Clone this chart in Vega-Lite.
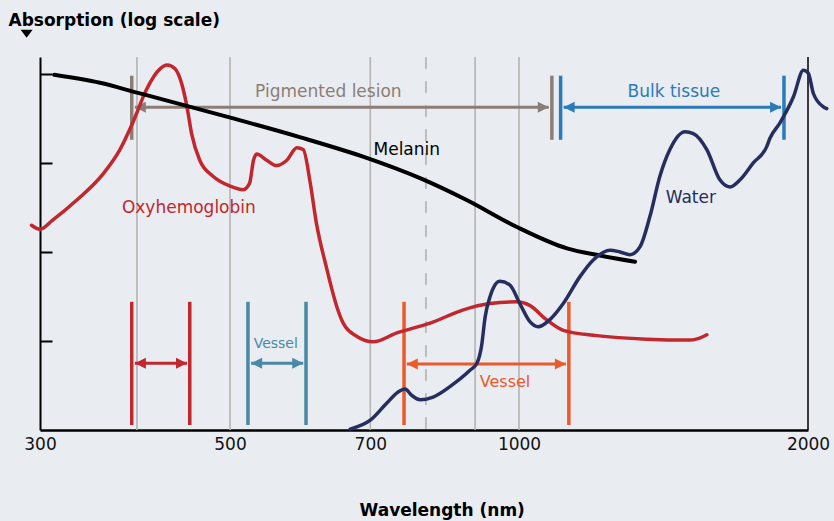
{
  "$schema": "https://vega.github.io/schema/vega-lite/v6.json",
  "width": 768,
  "height": 373,
  "autosize": {"type": "none"},
  "padding": {"left": 40, "top": 57, "right": 26, "bottom": 91},
  "background": "#e9ecf1",
  "config": {
    "view": {"stroke": null},
    "font": "DejaVu Sans",
    "axis": {"grid": false},
    "axisX": {
      "ticks": false,
      "tickSize": 0,
      "grid": false,
      "domainColor": "#000000",
      "domainWidth": 2.5,
      "labelFont": "DejaVu Sans",
      "labelFontSize": 17,
      "labelColor": "#111111",
      "labelPadding": 6,
      "labelFlush": false,
      "labelOverlap": false,
      "titleFont": "DejaVu Sans",
      "titleFontSize": 17,
      "titleFontWeight": "bold",
      "titleColor": "#000000",
      "titleX": 401.7,
      "titleY": 85,
      "titleBaseline": "alphabetic",
      "titleAlign": "center"
    },
    "axisY": {
      "labels": false,
      "grid": false,
      "domainColor": "#000000",
      "domainWidth": 2,
      "tickColor": "#000000",
      "tickWidth": 2,
      "tickSize": -12,
      "titleFont": "DejaVu Sans",
      "titleFontSize": 17,
      "titleFontWeight": "bold",
      "titleColor": "#000000",
      "titleAngle": 0,
      "titleAlign": "left",
      "titleBaseline": "alphabetic",
      "titleX": -32,
      "titleY": -32
    }
  },
  "datasets": {
    "grid": [
      {"wl": 400, "kind": "solid"},
      {"wl": 500, "kind": "solid"},
      {"wl": 700, "kind": "solid"},
      {"wl": 800, "kind": "dashed"},
      {"wl": 900, "kind": "solid"},
      {"wl": 1000, "kind": "solid"}
    ],
    "frame": [{"wl": 2000, "a": 0}],
    "brackets": [
      {"group": "Pigmented", "left": 395, "right": 1082, "bottom": 3.26, "top": 3.98, "arrow": 3.626, "ltip": 398, "rtip": 1074},
      {"group": "Bulk", "left": 1105, "right": 1888, "bottom": 3.26, "top": 3.98, "arrow": 3.626, "ltip": 1113, "rtip": 1875},
      {"group": "OxyVessel", "left": 395, "right": 454, "bottom": 0.056, "top": 1.44, "arrow": 0.75, "ltip": 398, "rtip": 451},
      {"group": "TealVessel", "left": 522, "right": 600, "bottom": 0.056, "top": 1.44, "arrow": 0.75, "ltip": 526, "rtip": 596},
      {"group": "OrangeVessel", "left": 759, "right": 1127, "bottom": 0.056, "top": 1.44, "arrow": 0.74, "ltip": 764, "rtip": 1119}
    ],
    "oxy": [
      {"wl": 310.6, "a": 2.30}, {"wl": 317, "a": 2.255}, {"wl": 327, "a": 2.36}, {"wl": 346, "a": 2.58},
      {"wl": 369, "a": 2.88}, {"wl": 384, "a": 3.15}, {"wl": 397, "a": 3.48}, {"wl": 409, "a": 3.82},
      {"wl": 423, "a": 4.06}, {"wl": 430, "a": 4.10}, {"wl": 438, "a": 4.06}, {"wl": 445, "a": 3.90},
      {"wl": 451, "a": 3.63}, {"wl": 456, "a": 3.33}, {"wl": 465, "a": 3.03}, {"wl": 480, "a": 2.85},
      {"wl": 500, "a": 2.74}, {"wl": 516, "a": 2.70}, {"wl": 524, "a": 2.77}, {"wl": 529, "a": 3.03},
      {"wl": 533, "a": 3.10}, {"wl": 546, "a": 3.03}, {"wl": 559, "a": 2.97}, {"wl": 573, "a": 3.03},
      {"wl": 587, "a": 3.17}, {"wl": 596, "a": 3.15}, {"wl": 606, "a": 2.78}, {"wl": 615, "a": 2.33},
      {"wl": 630, "a": 1.83}, {"wl": 646, "a": 1.385}, {"wl": 656, "a": 1.20}, {"wl": 678, "a": 1.05},
      {"wl": 705, "a": 0.99}, {"wl": 746, "a": 1.09}, {"wl": 808, "a": 1.20}, {"wl": 875, "a": 1.35},
      {"wl": 933, "a": 1.42}, {"wl": 994, "a": 1.44}, {"wl": 1026, "a": 1.40}, {"wl": 1068, "a": 1.24},
      {"wl": 1112, "a": 1.12}, {"wl": 1205, "a": 1.06}, {"wl": 1358, "a": 1.02}, {"wl": 1507, "a": 1.01},
      {"wl": 1556, "a": 1.05}, {"wl": 1569, "a": 1.07}
    ],
    "melanin": [
      {"wl": 328, "a": 3.99}, {"wl": 366, "a": 3.90}, {"wl": 400, "a": 3.79}, {"wl": 496, "a": 3.52},
      {"wl": 591, "a": 3.29}, {"wl": 688, "a": 3.07}, {"wl": 792, "a": 2.82}, {"wl": 883, "a": 2.58},
      {"wl": 995, "a": 2.28}, {"wl": 1122, "a": 2.04}, {"wl": 1214, "a": 1.96}, {"wl": 1321, "a": 1.89}
    ],
    "water": [
      {"wl": 667, "a": 0.01}, {"wl": 700, "a": 0.11}, {"wl": 728, "a": 0.30}, {"wl": 749, "a": 0.43},
      {"wl": 761, "a": 0.46}, {"wl": 773, "a": 0.39}, {"wl": 789, "a": 0.34}, {"wl": 814, "a": 0.37},
      {"wl": 848, "a": 0.49}, {"wl": 889, "a": 0.67}, {"wl": 904, "a": 0.75}, {"wl": 914, "a": 0.94},
      {"wl": 922, "a": 1.27}, {"wl": 933, "a": 1.50}, {"wl": 955, "a": 1.67}, {"wl": 978, "a": 1.63},
      {"wl": 1002, "a": 1.42}, {"wl": 1026, "a": 1.22}, {"wl": 1047, "a": 1.16}, {"wl": 1077, "a": 1.24},
      {"wl": 1112, "a": 1.42}, {"wl": 1157, "a": 1.72}, {"wl": 1195, "a": 1.91}, {"wl": 1244, "a": 2.02},
      {"wl": 1274, "a": 2.00}, {"wl": 1305, "a": 1.97}, {"wl": 1337, "a": 2.06}, {"wl": 1369, "a": 2.40},
      {"wl": 1402, "a": 2.85}, {"wl": 1436, "a": 3.15}, {"wl": 1489, "a": 3.35}, {"wl": 1519, "a": 3.33},
      {"wl": 1569, "a": 3.15}, {"wl": 1619, "a": 2.81}, {"wl": 1659, "a": 2.73}, {"wl": 1699, "a": 2.81},
      {"wl": 1754, "a": 3.00}, {"wl": 1811, "a": 3.18}, {"wl": 1826, "a": 3.28}, {"wl": 1870, "a": 3.45},
      {"wl": 1931, "a": 3.74}, {"wl": 1978, "a": 4.04}, {"wl": 2001, "a": 4.01}, {"wl": 2026, "a": 3.78},
      {"wl": 2075, "a": 3.63}, {"wl": 2092, "a": 3.61}
    ],
    "labels": [
      {"label": "Melanin", "group": "Melanin", "wl": 764, "a": 3.09},
      {"label": "Oxyhemoglobin", "group": "Oxyhemoglobin", "wl": 453, "a": 2.435},
      {"label": "Water", "group": "Water", "wl": 1510, "a": 2.554},
      {"label": "Pigmented lesion", "group": "Pigmented", "wl": 633, "a": 3.742},
      {"label": "Bulk tissue", "group": "Bulk", "wl": 1450, "a": 3.738}
    ],
    "vesselTeal": [{"label": "Vessel", "group": "TealVessel", "wl": 558, "a": 0.918}],
    "vesselOrange": [{"label": "Vessel", "group": "OrangeVessel", "wl": 967, "a": 0.487}],
    "marker": [{"wl": 307, "a": 4.45}]
  },
  "layer": [
    {
      "data": {"name": "oxy"},
      "mark": {"type": "rule", "opacity": 0},
      "encoding": {
        "x": {
          "field": "wl", "type": "quantitative", "title": "Wavelength (nm)",
          "scale": {"type": "log", "domain": [317, 2000], "nice": false},
          "axis": {"values": [317, 500, 700, 1000, 2000], "format": "d", "labelExpr": "datum.value < 400 ? '300' : datum.label"}
        },
        "y": {
          "field": "a", "type": "quantitative", "title": "Absorption (log scale)",
          "scale": {"domain": [0, 4.19], "nice": false, "zero": false},
          "axis": {"values": [1, 2, 3, 4]}
        }
      }
    },
    {
      "data": {"name": "grid"},
      "transform": [{"filter": "datum.kind == 'solid'"}],
      "mark": {"type": "rule", "color": "#b4b4b4", "strokeWidth": 1.6},
      "encoding": {
        "x": {"field": "wl", "type": "quantitative", "title": "Wavelength (nm)", "scale": {"type": "log", "domain": [317, 2000], "nice": false}}
      }
    },
    {
      "data": {"name": "grid"},
      "transform": [{"filter": "datum.kind == 'dashed'"}],
      "mark": {"type": "rule", "color": "#b4b4b4", "strokeWidth": 1.6, "strokeDash": [12, 12]},
      "encoding": {
        "x": {"field": "wl", "type": "quantitative", "title": "Wavelength (nm)", "scale": {"type": "log", "domain": [317, 2000], "nice": false}}
      }
    },
    {
      "data": {"name": "frame"},
      "mark": {"type": "rule", "color": "#000000", "strokeWidth": 1.5},
      "encoding": {
        "x": {"field": "wl", "type": "quantitative", "title": "Wavelength (nm)", "scale": {"type": "log", "domain": [317, 2000], "nice": false}}
      }
    },
    {
      "data": {"name": "brackets"},
      "mark": {"type": "rule", "strokeWidth": 3.5},
      "encoding": {
        "x": {"field": "left", "type": "quantitative", "title": "Wavelength (nm)", "scale": {"type": "log", "domain": [317, 2000], "nice": false}},
        "y": {"field": "bottom", "type": "quantitative", "title": "Absorption (log scale)", "scale": {"domain": [0, 4.19], "nice": false, "zero": false}},
        "y2": {"field": "top"},
        "color": {"field": "group", "type": "nominal", "legend": null,
          "scale": {"domain": ["Oxyhemoglobin", "Melanin", "Water", "Pigmented", "Bulk", "OxyVessel", "TealVessel", "OrangeVessel"],
                    "range": ["#c1272d", "#000000", "#262d5f", "#8b7e76", "#2b7bba", "#c1272d", "#4a89a5", "#ea5a2b"]}}
      }
    },
    {
      "data": {"name": "brackets"},
      "mark": {"type": "rule", "strokeWidth": 3.5},
      "encoding": {
        "x": {"field": "right", "type": "quantitative", "title": "Wavelength (nm)", "scale": {"type": "log", "domain": [317, 2000], "nice": false}},
        "y": {"field": "bottom", "type": "quantitative", "title": "Absorption (log scale)", "scale": {"domain": [0, 4.19], "nice": false, "zero": false}},
        "y2": {"field": "top"},
        "color": {"field": "group", "type": "nominal", "legend": null,
          "scale": {"domain": ["Oxyhemoglobin", "Melanin", "Water", "Pigmented", "Bulk", "OxyVessel", "TealVessel", "OrangeVessel"],
                    "range": ["#c1272d", "#000000", "#262d5f", "#8b7e76", "#2b7bba", "#c1272d", "#4a89a5", "#ea5a2b"]}}
      }
    },
    {
      "data": {"name": "brackets"},
      "mark": {"type": "rule", "strokeWidth": 3},
      "encoding": {
        "x": {"field": "ltip", "type": "quantitative", "title": "Wavelength (nm)", "scale": {"type": "log", "domain": [317, 2000], "nice": false}},
        "x2": {"field": "rtip"},
        "y": {"field": "arrow", "type": "quantitative", "title": "Absorption (log scale)", "scale": {"domain": [0, 4.19], "nice": false, "zero": false}},
        "color": {"field": "group", "type": "nominal", "legend": null,
          "scale": {"domain": ["Oxyhemoglobin", "Melanin", "Water", "Pigmented", "Bulk", "OxyVessel", "TealVessel", "OrangeVessel"],
                    "range": ["#c1272d", "#000000", "#262d5f", "#8b7e76", "#2b7bba", "#c1272d", "#4a89a5", "#ea5a2b"]}}
      }
    },
    {
      "data": {"name": "brackets"},
      "mark": {"type": "point", "shape": "M0,0L1,-0.5L1,0.5Z", "filled": true, "opacity": 1, "size": 484, "strokeWidth": 0},
      "encoding": {
        "x": {"field": "ltip", "type": "quantitative", "title": "Wavelength (nm)", "scale": {"type": "log", "domain": [317, 2000], "nice": false}},
        "y": {"field": "arrow", "type": "quantitative", "title": "Absorption (log scale)", "scale": {"domain": [0, 4.19], "nice": false, "zero": false}},
        "color": {"field": "group", "type": "nominal", "legend": null,
          "scale": {"domain": ["Oxyhemoglobin", "Melanin", "Water", "Pigmented", "Bulk", "OxyVessel", "TealVessel", "OrangeVessel"],
                    "range": ["#c1272d", "#000000", "#262d5f", "#8b7e76", "#2b7bba", "#c1272d", "#4a89a5", "#ea5a2b"]}}
      }
    },
    {
      "data": {"name": "brackets"},
      "mark": {"type": "point", "shape": "M0,0L-1,-0.5L-1,0.5Z", "filled": true, "opacity": 1, "size": 484, "strokeWidth": 0},
      "encoding": {
        "x": {"field": "rtip", "type": "quantitative", "title": "Wavelength (nm)", "scale": {"type": "log", "domain": [317, 2000], "nice": false}},
        "y": {"field": "arrow", "type": "quantitative", "title": "Absorption (log scale)", "scale": {"domain": [0, 4.19], "nice": false, "zero": false}},
        "color": {"field": "group", "type": "nominal", "legend": null,
          "scale": {"domain": ["Oxyhemoglobin", "Melanin", "Water", "Pigmented", "Bulk", "OxyVessel", "TealVessel", "OrangeVessel"],
                    "range": ["#c1272d", "#000000", "#262d5f", "#8b7e76", "#2b7bba", "#c1272d", "#4a89a5", "#ea5a2b"]}}
      }
    },
    {
      "data": {"name": "oxy"},
      "mark": {"type": "line", "color": "#c1272d", "strokeWidth": 3.5, "interpolate": "monotone", "strokeCap": "round"},
      "encoding": {
        "x": {"field": "wl", "type": "quantitative", "title": "Wavelength (nm)", "scale": {"type": "log", "domain": [317, 2000], "nice": false}},
        "y": {"field": "a", "type": "quantitative", "title": "Absorption (log scale)", "scale": {"domain": [0, 4.19], "nice": false, "zero": false}}
      }
    },
    {
      "data": {"name": "melanin"},
      "mark": {"type": "line", "color": "#000000", "strokeWidth": 4, "interpolate": "monotone", "strokeCap": "round"},
      "encoding": {
        "x": {"field": "wl", "type": "quantitative", "title": "Wavelength (nm)", "scale": {"type": "log", "domain": [317, 2000], "nice": false}},
        "y": {"field": "a", "type": "quantitative", "title": "Absorption (log scale)", "scale": {"domain": [0, 4.19], "nice": false, "zero": false}}
      }
    },
    {
      "data": {"name": "water"},
      "mark": {"type": "line", "color": "#262d5f", "strokeWidth": 3.5, "interpolate": "monotone", "strokeCap": "round"},
      "encoding": {
        "x": {"field": "wl", "type": "quantitative", "title": "Wavelength (nm)", "scale": {"type": "log", "domain": [317, 2000], "nice": false}},
        "y": {"field": "a", "type": "quantitative", "title": "Absorption (log scale)", "scale": {"domain": [0, 4.19], "nice": false, "zero": false}}
      }
    },
    {
      "data": {"name": "labels"},
      "mark": {"type": "text", "font": "DejaVu Sans", "fontSize": 17, "align": "center", "baseline": "alphabetic"},
      "encoding": {
        "x": {"field": "wl", "type": "quantitative", "title": "Wavelength (nm)", "scale": {"type": "log", "domain": [317, 2000], "nice": false}},
        "y": {"field": "a", "type": "quantitative", "title": "Absorption (log scale)", "scale": {"domain": [0, 4.19], "nice": false, "zero": false}},
        "text": {"field": "label"},
        "color": {"field": "group", "type": "nominal", "legend": null,
          "scale": {"domain": ["Oxyhemoglobin", "Melanin", "Water", "Pigmented", "Bulk", "OxyVessel", "TealVessel", "OrangeVessel"],
                    "range": ["#c1272d", "#000000", "#262d5f", "#8b7e76", "#2b7bba", "#c1272d", "#4a89a5", "#ea5a2b"]}}
      }
    },
    {
      "data": {"name": "vesselTeal"},
      "mark": {"type": "text", "font": "DejaVu Sans", "fontSize": 14, "align": "center", "baseline": "alphabetic"},
      "encoding": {
        "x": {"field": "wl", "type": "quantitative", "title": "Wavelength (nm)", "scale": {"type": "log", "domain": [317, 2000], "nice": false}},
        "y": {"field": "a", "type": "quantitative", "title": "Absorption (log scale)", "scale": {"domain": [0, 4.19], "nice": false, "zero": false}},
        "text": {"field": "label"},
        "color": {"field": "group", "type": "nominal", "legend": null,
          "scale": {"domain": ["Oxyhemoglobin", "Melanin", "Water", "Pigmented", "Bulk", "OxyVessel", "TealVessel", "OrangeVessel"],
                    "range": ["#c1272d", "#000000", "#262d5f", "#8b7e76", "#2b7bba", "#c1272d", "#4a89a5", "#ea5a2b"]}}
      }
    },
    {
      "data": {"name": "vesselOrange"},
      "mark": {"type": "text", "font": "DejaVu Sans", "fontSize": 16, "align": "center", "baseline": "alphabetic"},
      "encoding": {
        "x": {"field": "wl", "type": "quantitative", "title": "Wavelength (nm)", "scale": {"type": "log", "domain": [317, 2000], "nice": false}},
        "y": {"field": "a", "type": "quantitative", "title": "Absorption (log scale)", "scale": {"domain": [0, 4.19], "nice": false, "zero": false}},
        "text": {"field": "label"},
        "color": {"field": "group", "type": "nominal", "legend": null,
          "scale": {"domain": ["Oxyhemoglobin", "Melanin", "Water", "Pigmented", "Bulk", "OxyVessel", "TealVessel", "OrangeVessel"],
                    "range": ["#c1272d", "#000000", "#262d5f", "#8b7e76", "#2b7bba", "#c1272d", "#4a89a5", "#ea5a2b"]}}
      }
    },
    {
      "data": {"name": "marker"},
      "mark": {"type": "point", "shape": "M-1,-0.67L1,-0.67L0,0.67Z", "filled": true, "opacity": 1, "size": 144, "color": "#000000", "strokeWidth": 0},
      "encoding": {
        "x": {"field": "wl", "type": "quantitative", "title": "Wavelength (nm)", "scale": {"type": "log", "domain": [317, 2000], "nice": false}},
        "y": {"field": "a", "type": "quantitative", "title": "Absorption (log scale)", "scale": {"domain": [0, 4.19], "nice": false, "zero": false}}
      }
    }
  ]
}
